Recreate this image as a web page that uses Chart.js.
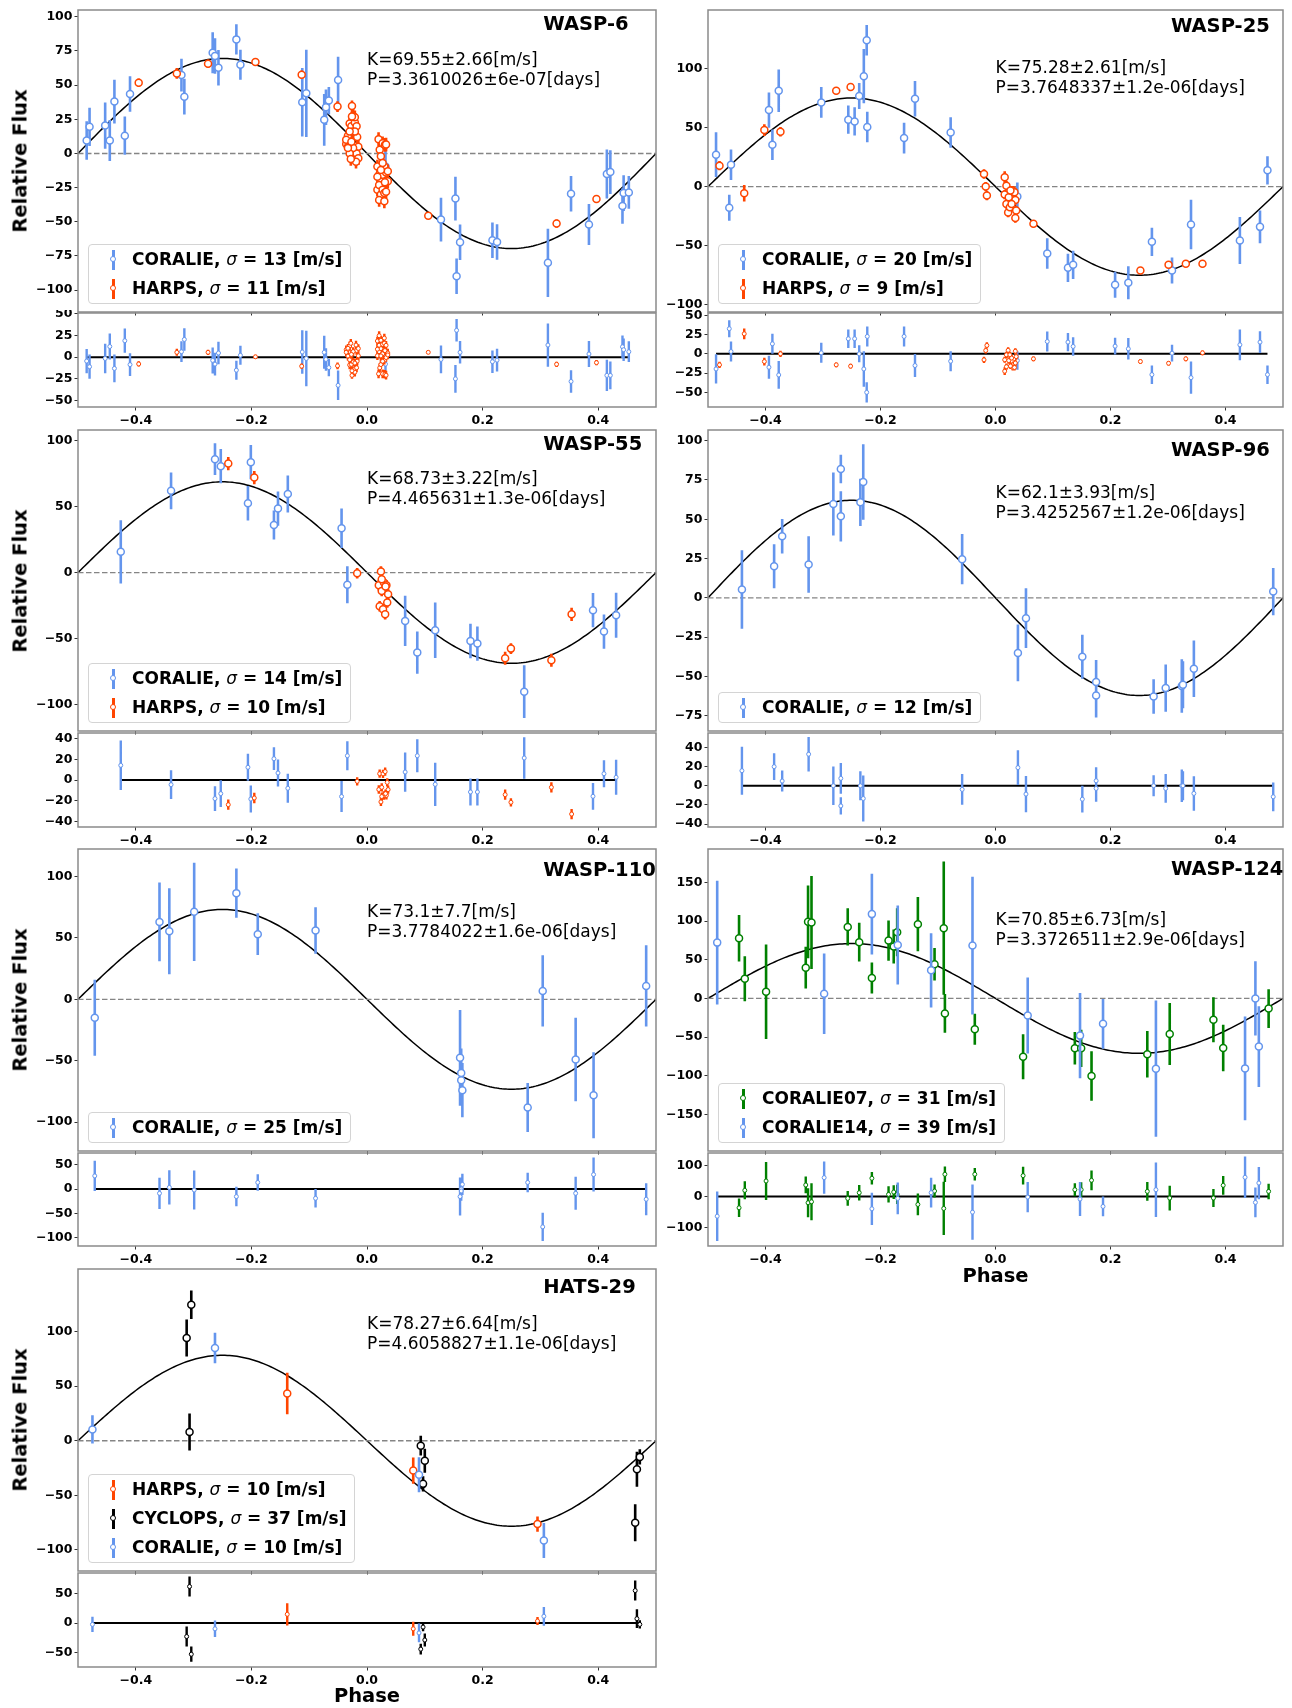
<!DOCTYPE html>
<html><head><meta charset="utf-8">
<script src="https://cdn.jsdelivr.net/npm/chart.js@4.4.1/dist/chart.umd.min.js"></script>
<style>
html,body{margin:0;padding:0;background:#fff;}
#root{position:relative;width:1292px;height:1708px;overflow:hidden;font-family:'DejaVu Sans',sans-serif;color:#000;}
canvas{position:absolute;}
.ttl{position:absolute;font-weight:bold;font-size:19.5px;line-height:24px;white-space:nowrap;}
.ann{position:absolute;font-size:17px;line-height:20px;white-space:nowrap;}
.ylab{position:absolute;font-weight:bold;font-size:19.5px;white-space:nowrap;transform:translate(-50%,-50%) rotate(-90deg);}
.xlab{position:absolute;font-weight:bold;font-size:19.5px;white-space:nowrap;transform:translate(-50%,-50%);}
.leg{position:absolute;border:1px solid #d4d4d4;border-radius:4px;background:rgba(255,255,255,0.8);padding:0 8px 0 0;}
.le{position:relative;height:29px;line-height:29px;padding-left:43px;font-weight:bold;font-size:17px;white-space:nowrap;}
.le i{font-weight:normal;}
.mk{position:absolute;left:22.5px;top:4.5px;width:3px;height:20px;}
.mc{position:absolute;left:20.5px;top:11px;width:4px;height:4px;border:1.5px solid;border-radius:50%;background:#fff;}
</style></head>
<body><div id="root"></div>
<script>
// ---------------- DATA ----------------
const names = ['WASP-6','WASP-25','WASP-55','WASP-96','WASP-110','WASP-124','HATS-29'];
const Kvals = [69.55,75.28,68.73,62.1,73.1,70.85,78.27];
const Ktexts = ['K=69.55\u00b12.66[m/s]','K=75.28\u00b12.61[m/s]','K=68.73\u00b13.22[m/s]','K=62.1\u00b13.93[m/s]','K=73.1\u00b17.7[m/s]','K=70.85\u00b16.73[m/s]','K=78.27\u00b16.64[m/s]'];
const Ptexts = ['P=3.3610026\u00b16e-07[days]','P=3.7648337\u00b11.2e-06[days]','P=4.465631\u00b11.3e-06[days]','P=3.4252567\u00b11.2e-06[days]','P=3.7784022\u00b11.6e-06[days]','P=3.3726511\u00b12.9e-06[days]','P=4.6058827\u00b11.1e-06[days]'];
const xTickVals = [-0.4,-0.2,0,0.2,0.4];
const yMainRanges = [[-116,105],[-106.5,150],[-120,108],[-84.7,106.8],[-123.4,122.3],[-197,193],[-119.3,157.3]];
const yMainTicks = [[-100,-75,-50,-25,0,25,50,75,100],[-100,-50,0,50,100],[-100,-50,0,50,100],[-75,-50,-25,0,25,50,75,100],[-100,-50,0,50,100],[-150,-100,-50,0,50,100,150],[-100,-50,0,50,100]];
const yResRanges = [[-57.5,51],[-69,53],[-45.5,45.5],[-43,55],[-117,74],[-160,140],[-75,85.5]];
const yResTicks = [[-50,-25,0,25,50],[-50,-25,0,25,50],[-40,-20,0,20,40],[-40,-20,0,20,40],[-100,-50,0,50],[-100,0,100],[-50,0,50]];

// WASP-6
const w6_c_ph = [-0.485,-0.480,-0.453,-0.445,-0.437,-0.419,-0.410,-0.321,-0.316,-0.267,-0.263,-0.257,-0.226,-0.219,-0.112,-0.105,-0.074,-0.071,-0.066,-0.050,0.032,0.128,0.153,0.155,0.161,0.217,0.225,0.313,0.353,0.384,0.415,0.421,0.442,0.444,0.453];
const w6_c_rv = [9.5,19.5,20.4,9.5,38,13,43.5,57.4,41.6,73.7,71.3,62.8,83.5,65,37.5,44,24.6,33.8,38.7,53.8,-9.5,-48.4,-33,-89.8,-65,-63.5,-64.7,-80,-29.5,-52,-15,-13.6,-38.4,-29,-28.5];
const w6_c_err = [14,14,17,15,16,14,13,12,13,15,13,13,11,11,25,32,19,13,10,17,12,16,16,13,13,13,13,25,13,15,18,16,13,13,12];
const w6_c_res = [-4.5,-11,-1.5,12.3,-13,19,-8.6,6.3,20.5,-3.7,-8,4.8,-15,2.2,6,-1.5,5.6,-2.6,-12,-32.5,-8,-2.6,-25,31,5.6,-5.2,-3.4,14,-28,3.7,-21,-21,12,8.6,6.3];
const w6_h_ph = [-0.395,-0.329,-0.275,-0.193,-0.113,-0.051,-0.026,0.106,0.328,0.397,
 -0.036,-0.033,-0.030,-0.027,-0.024,-0.021,-0.018,-0.017,-0.015,-0.018,-0.024,-0.033,-0.036,-0.030,-0.027,-0.021,-0.015,-0.024,-0.021,-0.030,-0.033,-0.026,-0.019,-0.028,
 0.020,0.022,0.024,0.027,0.031,0.033,0.018,0.021,0.024,0.027,0.030,0.033,0.036,0.018,0.021,0.024,0.027,0.030,0.033,0.021,0.030,0.018,0.027,0.036,0.024,0.031];
const w6_h_rv = [51.8,58.6,65.7,67,57.7,34.3,34.8,-45.5,-51.3,-33.3,
 7,13,22,20,16,22.6,20,12,5,0,4,5,10,0,8.5,16,-3.4,27.5,26.5,16,4,27,-6,-4,
 10.5,2.7,-2,7.5,6.3,6.5,-9.5,-15.6,-20.4,-15.6,-9.5,-13.9,-20.4,-26.5,-23,-30,-26.5,-29,-28,-34,-35,-17,-7,-13,-12,-21];
const w6_h_err = [3,4,3,2.5,3,4,4,2,3,3,
 5,5,5,5,5,5,5,5,5,5,5,5,5,5,5,5,5,5,5,5,5,5,5,5,
 5,5,5,5,5,5,5,5,5,5,5,5,5,5,5,5,5,5,5,5,5,5,5,5,5,5];
const w6_h_res = [-7.8,5.6,5.6,0.4,-10.4,-10,-21,5.6,-8.2,-6.3,
 8.6,1.3,-9,-8.3,-5.5,-13.4,-12.2,-4.6,1.6,7.8,6.5,9.3,5.6,13,3.2,-6.8,10,-17,-17.3,-3,10.3,-15.7,14,16,
 -19.2,-12.3,-8.5,-19.2,-19.7,-20.8,1.7,6.4,9.9,3.9,-3.5,-0.4,4.8,18.7,13.8,19.5,14.8,16,13.7,24.8,22,9.2,-4.7,2.6,1.5,7.6];

// WASP-25
const w25_c_ph = [-0.486,-0.463,-0.460,-0.394,-0.388,-0.377,-0.303,-0.256,-0.245,-0.237,-0.229,-0.224,-0.223,-0.159,-0.140,-0.078,0.038,0.090,0.126,0.135,0.208,0.231,0.272,0.307,0.340,0.425,0.460,0.473];
const w25_c_rv = [27.1,-18,18.6,65,35.6,81.4,71.5,56.8,55.4,77,93.8,124.3,50.6,41.2,74.6,46,-8.5,-56.8,-69,-66.4,-83.3,-81.6,-46.9,-71.2,-32.2,-45.8,-34.2,13.8];
const w25_c_err = [19,11,13,15,13,18,13,12,12,11,23,13,13,13,15,13,12,13,12,12,11,14,12,11,21,20,14,12];
const w25_c_res = [-19.6,32.6,3,-17.4,13,-27.4,1.3,19.6,19.6,0,-19.6,-50,22.6,22.6,-15.2,-9.6,-8.7,16,15.2,9.6,10,6.5,-27,0.9,-30.9,11.7,15.2,-27];
const w25_h_ph = [-0.480,-0.437,-0.402,-0.374,-0.277,-0.252,-0.020,-0.017,-0.015,0.016,0.019,0.016,0.019,0.022,0.025,0.0275,0.030,0.033,0.0345,0.036,0.0345,0.023,0.028,0.026,0.066,0.252,0.301,0.331,0.360];
const w25_h_rv = [17.8,-5.6,48,46.6,81.4,84.7,10.7,0,-7.6,8,0.8,-6.8,-14.7,-22,-17.5,-10.7,-3.4,-4.8,-11.3,-20.3,-26.6,-9,-14.7,-3.4,-31.6,-71.2,-66.4,-65.5,-65.5];
const w25_h_err = [4,7,5,4,3,3,4,4,4,5,4,4,4,4,4,4,4,4,4,4,4,4,4,4,3,3,3,3,3];
const w25_h_res = [-14.3,26,-10,0,-14.3,-16,-7.8,4.3,10.9,-22.5,-16.7,-7.7,-1.3,4.6,-1.3,-9.2,-17.7,-17.7,-11.9,-3.6,3.4,-8.8,-5.5,-15.8,-6.5,-10,-12.2,-6.5,1.3];

// WASP-55
const w55_c_ph = [-0.426,-0.339,-0.263,-0.253,-0.206,-0.201,-0.161,-0.154,-0.137,-0.044,-0.034,0.066,0.087,0.118,0.179,0.191,0.272,0.391,0.410,0.431];
const w55_c_rv = [15.7,61.9,85.9,80.6,52.5,83.6,36.1,48.5,59.6,33.6,-9.3,-36.6,-60.6,-43.7,-51.8,-53.8,-90.2,-28.5,-44.7,-32.3];
const w55_c_err = [24,14,12,13,13,13,11,13,14,15,14,19,16,21,13,13,20,13,13,17];
const w55_c_res = [14.2,-4.5,-18,-13.2,12.3,-18.4,20.6,6.8,-8,-16,23.5,7.7,23.5,-4.2,-11.6,-11.6,21.3,-15.8,6.1,2.6];
const w55_h_ph = [-0.240,-0.195,-0.017,0.0241,0.0204,0.0255,0.0292,0.0336,0.0365,0.035,0.0219,0.0277,0.0314,0.0321,0.0255,0.239,0.249,0.319,0.354];
const w55_h_rv = [82.6,72,-0.5,0.8,-9.6,-13.9,-7.6,-9.6,-16.4,-22.7,-25.5,-27.8,-31.6,-10.6,-5,-64.9,-57.6,-66.4,-31.6];
const w55_h_err = [5,5,4,4,4,4,4,4,4,4,4,4,4,4,4,5,4,5,5];
const w55_h_res = [-23.9,-17.4,-1.3,-21.2,-9.2,-7.1,-15,-14.8,-9.3,-2.3,6.1,5.9,8.1,-13.2,-16,-14.2,-21.6,-7.1,-33];

// WASP-96
const w96_c_ph = [-0.441,-0.385,-0.371,-0.325,-0.282,-0.269,-0.269,-0.235,-0.230,-0.058,0.039,0.053,0.151,0.175,0.175,0.275,0.296,0.324,0.326,0.345,0.483];
const w96_c_rv = [5.3,20.1,39.2,21.2,59.7,82,51.9,60.8,73.7,24.6,-35,-12.9,-37.5,-53.6,-62.1,-62.7,-57.4,-56.1,-55.3,-45.1,4];
const w96_c_err = [25,14,11,18,20,9,16,15,24,16,18,19,14,14,14,11,15,17,15,18,15];
const w96_c_res = [15.7,19.9,4.9,32.9,0,-21,7.7,0,-13.3,-3.8,18.9,-8.7,-14,-2.8,5.2,0,-2.8,0,0,-8,-11.5];

// WASP-110
const w110_c_ph = [-0.471,-0.359,-0.342,-0.299,-0.226,-0.189,-0.089,0.161,0.163,0.163,0.165,0.278,0.304,0.361,0.392,0.483];
const w110_c_rv = [-15,63,55.4,71.2,86.4,53,56,-47.6,-65.8,-60,-73.9,-88,6.8,-48.9,-78,10.9];
const w110_c_err = [31,32,35,40,20,17,19,39,20,20,22,20,29,34,35,33];
const w110_c_res = [27,-8.8,3.4,-2,-15.5,13.5,-19,-15.5,0,-4,9.5,13.5,-77.7,-8.8,29.7,-21];

// WASP-124
const w124_g_ph = [-0.446,-0.436,-0.399,-0.330,-0.326,-0.320,-0.257,-0.237,-0.215,-0.186,-0.177,-0.171,-0.135,-0.106,-0.090,-0.088,-0.036,0.048,0.138,0.149,0.167,0.264,0.303,0.379,0.396,0.475];
const w124_g_rv = [77.8,25.5,8.6,39.7,98.9,98,92.4,72.6,26.3,74.7,67,85.5,95.9,44.1,90.7,-19.4,-39.7,-75.2,-64.4,-64.4,-100.2,-72.1,-45.8,-27.6,-63.9,-13];
const w124_g_err = [30,29,61,27,47,60,24,25,20,26,22,31,35,21,86,25,20,29,21,24,32,30,40,29,30,25];
const w124_g_res = [-36.8,19.5,49.7,36.8,-20.5,-17.3,-6.5,11.9,58.4,6.5,14,6.5,-26,17.3,-38.9,71.4,71.4,67,21.6,21.6,51.9,16.2,-5.4,-5.4,35.7,16.2];
const w124_b_ph = [-0.484,-0.298,-0.215,-0.170,-0.112,-0.040,0.056,0.147,0.187,0.279,0.434,0.452,0.458];
const w124_b_rv = [72.1,6,108.9,69.1,36.3,68.3,-22,-48,-32.8,-90.7,-90.3,0,-62.2];
const w124_b_err = [80,52,52,51,48,89,49,55,32,88,67,48,52];
const w124_b_res = [-63.8,60.5,-40,-6.5,11.9,-50.8,-2.2,-8.6,-32.4,21.6,61.6,-19.5,43.2];

// HATS-29
const h29_h_ph = [-0.138,0.080,0.295];
const h29_h_rv = [43.3,-27.3,-76.3];
const h29_h_err = [19,12,7];
const h29_h_res = [15,-9.8,3.5];
const h29_y_ph = [-0.312,-0.304,-0.307,0.093,0.100,0.097,0.472,0.467,0.464];
const h29_y_rv = [94.1,124.6,8,-4.5,-18.4,-39.5,-14.8,-26.1,-75.1];
const h29_y_err = [17,13,17,9,11,7,7,16,17];
const h29_y_res = [-23,-53.2,62.4,-44.5,-28.9,-6.9,-2.3,7.5,55.5];
const h29_c_ph = [-0.475,-0.263,0.090,0.306];
const h29_c_rv = [10.4,84.9,-31.2,-91.4];
const h29_c_err = [13,14,16,16];
const h29_c_res = [-2.3,-9.8,-16.8,11.6];

// ---------------- STYLE / LAYOUT ----------------
const C_BLUE = '#6495ED', C_RED = '#FF4500', C_GREEN = '#008000', C_BLACK = '#000000';
const colL = {left:78, right:656}, colR = {left:708, right:1283};
const rowsGeo = [
  {mt:10, mb:312, rt:313, rb:407},
  {mt:430, mb:731, rt:733, rb:827},
  {mt:849, mb:1151, rt:1153, rb:1246},
  {mt:1269, mb:1571, rt:1573, rb:1667}];
const titleDy = [14,16,14,20,21,20,18];
const kDy = [49,57,48,62,62,70,54];

function ser(label, sigma, color, ph, rv, err, res){ return {label, sigma, color, ph, rv, err, res}; }
const panels = [
  {col:'L', row:0, series:[ser('CORALIE',13,C_BLUE,w6_c_ph,w6_c_rv,w6_c_err,w6_c_res), ser('HARPS',11,C_RED,w6_h_ph,w6_h_rv,w6_h_err,w6_h_res)]},
  {col:'R', row:0, series:[ser('CORALIE',20,C_BLUE,w25_c_ph,w25_c_rv,w25_c_err,w25_c_res), ser('HARPS',9,C_RED,w25_h_ph,w25_h_rv,w25_h_err,w25_h_res)]},
  {col:'L', row:1, series:[ser('CORALIE',14,C_BLUE,w55_c_ph,w55_c_rv,w55_c_err,w55_c_res), ser('HARPS',10,C_RED,w55_h_ph,w55_h_rv,w55_h_err,w55_h_res)]},
  {col:'R', row:1, series:[ser('CORALIE',12,C_BLUE,w96_c_ph,w96_c_rv,w96_c_err,w96_c_res)]},
  {col:'L', row:2, series:[ser('CORALIE',25,C_BLUE,w110_c_ph,w110_c_rv,w110_c_err,w110_c_res)]},
  {col:'R', row:2, series:[ser('CORALIE07',31,C_GREEN,w124_g_ph,w124_g_rv,w124_g_err,w124_g_res), ser('CORALIE14',39,C_BLUE,w124_b_ph,w124_b_rv,w124_b_err,w124_b_res)]},
  {col:'L', row:3, series:[ser('HARPS',10,C_RED,h29_h_ph,h29_h_rv,h29_h_err,h29_h_res), ser('CYCLOPS',37,C_BLACK,h29_y_ph,h29_y_rv,h29_y_err,h29_y_res), ser('CORALIE',10,C_BLUE,h29_c_ph,h29_c_rv,h29_c_err,h29_c_res)]}
];

const root = document.getElementById('root');
function fmt(v, d){ if (Math.abs(v) < 1e-9) return d ? (0).toFixed(d) : '0'; return (v < 0 ? '\u2212' : '') + Math.abs(v).toFixed(d); }
const tickFont = {family:'DejaVu Sans', size:12.5, weight:'bold'};

const errPlugin = {
  id:'errbars',
  beforeDatasetDraw(chart, args){
    const ds = chart.data.datasets[args.index];
    if (!ds.errors) return;
    const c = chart.ctx, ys = chart.scales.y, a = chart.chartArea;
    c.save();
    c.beginPath(); c.rect(a.left, a.top, a.right - a.left, a.bottom - a.top); c.clip();
    c.strokeStyle = ds.pointBorderColor; c.lineWidth = ds.errWidth; c.lineCap = 'butt';
    c.beginPath();
    args.meta.data.forEach((pt, i) => {
      const d = ds.data[i], e = ds.errors[i];
      c.moveTo(pt.x, ys.getPixelForValue(d.y - e));
      c.lineTo(pt.x, ys.getPixelForValue(d.y + e));
    });
    c.stroke(); c.restore();
  }
};
const framePlugin = {
  id:'frame',
  afterDatasetsDraw(chart){
    const a = chart.chartArea, c = chart.ctx;
    c.save(); c.strokeStyle = '#8a8a8a'; c.lineWidth = 1.5;
    c.strokeRect(a.left, a.top, a.right - a.left, a.bottom - a.top);
    c.restore();
  }
};

function lineDs(data, color, width, dash){
  return {data, showLine:true, borderColor:color, borderWidth:width, borderDash:dash, pointRadius:0, fill:false, order:100};
}
function ptDs(data, errors, color, r, bw, ew, order){
  return {data, errors, errWidth:ew, showLine:false, pointRadius:r, pointBorderWidth:bw,
          pointBackgroundColor:'#ffffff', pointBorderColor:color, backgroundColor:'#ffffff', borderColor:color, order};
}

function makeChart(area, xLabels, yr, yt, datasets){
  const YW = 70, PT = 3, PR = 4, XH = xLabels ? 24 : 6;
  const w = area.right - area.left, h = area.bottom - area.top;
  const W = w + YW + PR, H = h + PT + XH;
  const cv = document.createElement('canvas');
  cv.width = W; cv.height = H;
  cv.style.left = (area.left - YW) + 'px'; cv.style.top = (area.top - PT) + 'px';
  cv.style.width = W + 'px'; cv.style.height = H + 'px';
  root.appendChild(cv);
  const gridOpt = {display:true, drawOnChartArea:false, drawTicks:true, tickLength:3.5, tickColor:'#333', tickWidth:1};
  new Chart(cv.getContext('2d'), {
    type:'scatter',
    data:{datasets},
    options:{
      responsive:false, maintainAspectRatio:false, animation:false, devicePixelRatio:1, events:[],
      layout:{autoPadding:false, padding:{left:0, top:PT, right:PR, bottom:0}},
      plugins:{legend:{display:false}, tooltip:{enabled:false}, title:{display:false}},
      scales:{
        x:{type:'linear', min:-0.5, max:0.5,
           afterBuildTicks:s => { s.ticks = xTickVals.map(v => ({value:v})); },
           afterFit:s => { s.height = XH; s.paddingLeft = 0; s.paddingRight = 0; s.paddingTop = 0; s.paddingBottom = 0; },
           ticks:{display:xLabels, autoSkip:false, maxRotation:0, minRotation:0, padding:3, color:'#000', font:tickFont, callback:v => fmt(v,1)},
           grid:gridOpt, border:{display:false}},
        y:{type:'linear', min:yr[0], max:yr[1],
           afterBuildTicks:s => { s.ticks = yt.map(v => ({value:v})); },
           afterFit:s => { s.width = YW; s.paddingTop = 0; s.paddingBottom = 0; s.paddingLeft = 0; s.paddingRight = 0; },
           ticks:{autoSkip:false, padding:2, color:'#000', font:tickFont, callback:v => fmt(v,0)},
           grid:gridOpt, border:{display:false}}
      }
    },
    plugins:[errPlugin, framePlugin]
  });
}

function addDiv(cls, html, left, top){
  const d = document.createElement('div'); d.className = cls; d.innerHTML = html;
  d.style.left = left + 'px'; d.style.top = top + 'px'; root.appendChild(d); return d;
}

panels.forEach((p, k) => {
  const col = p.col === 'L' ? colL : colR, g = rowsGeo[p.row];
  const K = Kvals[k];
  const mainDs = [], resDs = [];
  mainDs.push(lineDs([{x:-0.5,y:0},{x:0.5,y:0}], '#858585', 1.3, [5.5,2.5]));
  const model = [];
  for (let i = 0; i <= 240; i++){ const x = -0.5 + i/240; model.push({x, y:-K*Math.sin(2*Math.PI*x)}); }
  mainDs.push(lineDs(model, '#000', 1.5, []));
  let mn = Infinity, mx = -Infinity;
  p.series.forEach(s => s.ph.forEach(v => { mn = Math.min(mn, v); mx = Math.max(mx, v); }));
  resDs.push(lineDs([{x:mn,y:0},{x:mx,y:0}], '#000', 2, []));
  p.series.forEach((s, i) => {
    mainDs.push(ptDs(s.ph.map((x, j) => ({x, y:s.rv[j]})), s.err, s.color, 3.5, 1.5, 2.6, 50 - i));
    resDs.push(ptDs(s.ph.map((x, j) => ({x, y:s.res[j]})), s.err, s.color, 2, 1, 2.4, 50 - i));
  });
  makeChart({left:col.left, right:col.right, top:g.mt, bottom:g.mb}, false, yMainRanges[k], yMainTicks[k], mainDs);
  makeChart({left:col.left, right:col.right, top:g.rt, bottom:g.rb}, true, yResRanges[k], yResTicks[k], resDs);

  const w = col.right - col.left;
  addDiv('ttl', names[k], col.left + 0.805*w, g.mt + titleDy[k] - 12);
  addDiv('ann', Ktexts[k] + '<br>' + Ptexts[k], col.left + 0.5*w, g.mt + kDy[k] - 10);

  const n = p.series.length;
  const lg = addDiv('leg', '', col.left + 10, g.mb - 8 - (n*29 + 2));
  p.series.forEach(s => {
    const e = document.createElement('div'); e.className = 'le';
    e.innerHTML = '<span class="mk" style="background:' + s.color + '"></span><span class="mc" style="border-color:' + s.color + '"></span>' +
                  s.label + ', <i>\u03c3</i> = ' + s.sigma + ' [m/s]';
    lg.appendChild(e);
  });
  if (p.col === 'L') addDiv('ylab', 'Relative Flux', 20, (g.mt + g.mb)/2);
});
addDiv('xlab', 'Phase', (colR.left + colR.right)/2, 1275);
addDiv('xlab', 'Phase', (colL.left + colL.right)/2, 1695);
</script>
</body></html>
